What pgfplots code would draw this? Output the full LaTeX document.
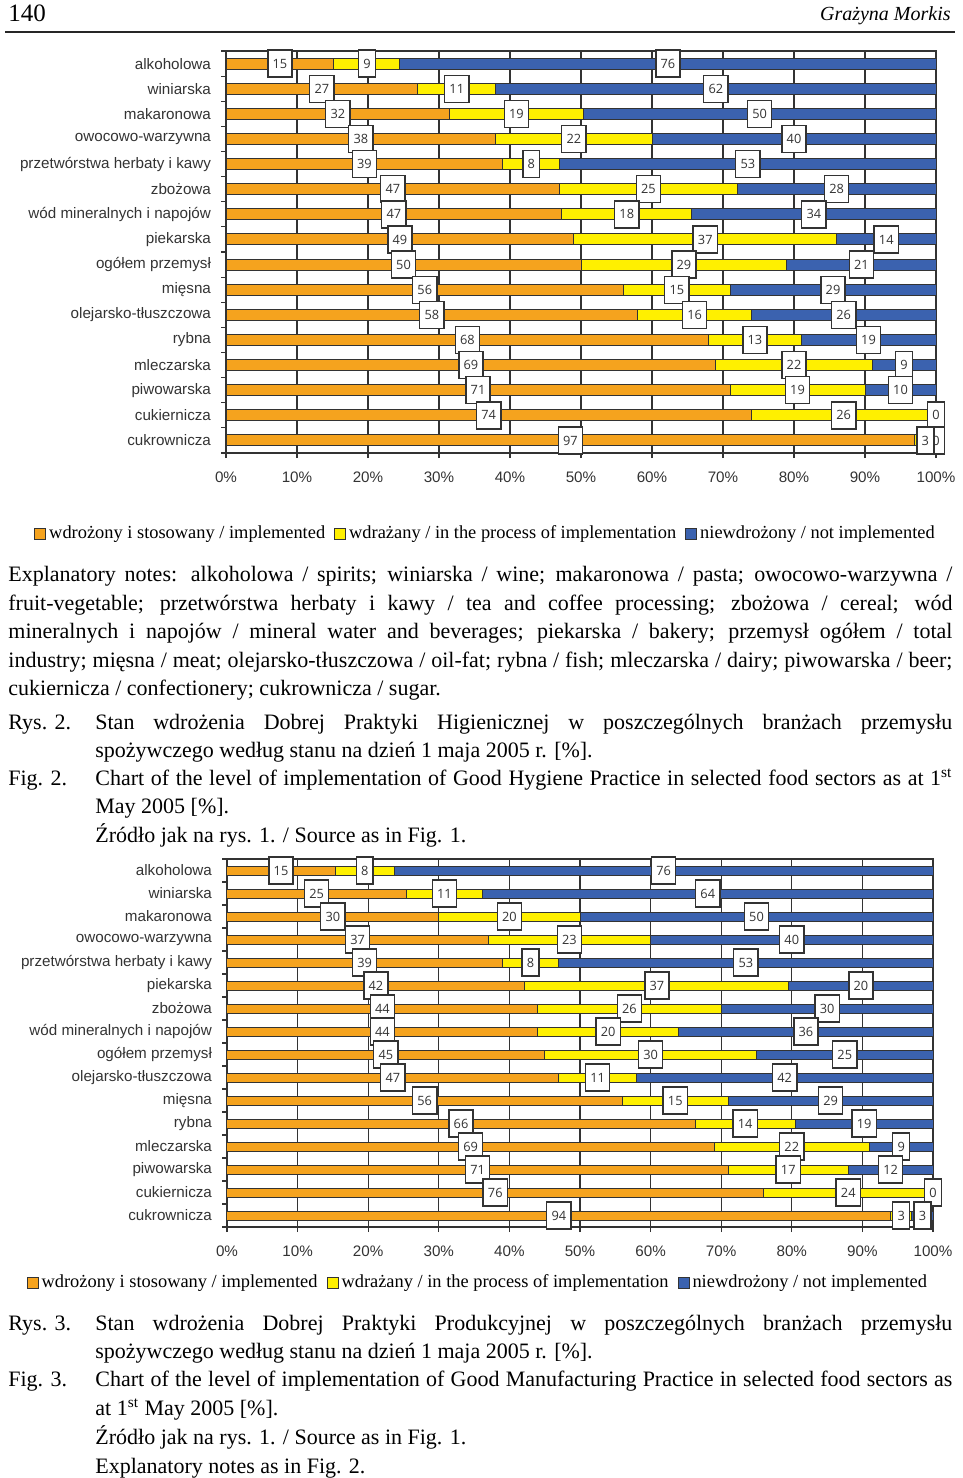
\documentclass[border=0pt]{standalone}
\usepackage{pgfplots}
\pgfplotsset{compat=1.18}
\usepackage{pgfplotstable}
\usepackage{fontspec}
\setmainfont{Liberation Serif}
\newfontfamily\arial{Liberation Sans}
\newfontfamily\lbl{Open Sans}
\definecolor{cOr}{HTML}{F5A31E}
\definecolor{cYe}{HTML}{FFF000}
\definecolor{cBl}{HTML}{3B62AF}
\definecolor{cAx}{HTML}{333333}

\pgfplotstableread{
y a b c la lb lc
0 15.2 9.3 75.5 15 9 76
1 27 11 62 27 11 62
2 31.5 18.8 49.7 32 19 50
3 38 22 40 38 22 40
4 39 8 53 39 8 53
5 47 25 28 47 25 28
6 47.3 18.3 34.4 47 18 34
7 49 37 14 49 37 14
8 50 29 21 50 29 21
9 56 15 29 56 15 29
10 58 16 26 58 16 26
11 68 13 19 68 13 19
12 69 22 9 69 22 9
13 71 19 10 71 19 10
14 74 26 0 74 26 0
15 97 3 0 97 3 0
}\dataA

\pgfplotstableread{
y a b c la lb lc
0 15.3 8.4 76.3 15 8 76
1 25.4 10.8 63.8 25 11 64
2 30 20 50 30 20 50
3 37 23 40 37 23 40
4 39 8 53 39 8 53
5 42.2 37.4 20.4 42 37 20
6 44 26 30 44 26 30
7 44 20 36 44 20 36
8 45 30 25 45 30 25
9 47 11 42 47 11 42
10 56 15 29 56 15 29
11 66.3 14.2 19.5 66 14 19
12 69 22 9 69 22 9
13 71 17 12 71 17 12
14 76 24 0 76 24 0
15 94 3 3 94 3 3
}\dataB

\tikzset{lblbox/.style={draw=cAx, fill=white, line width=0.7pt, font=\lbl\fontsize{6.4}{7}\selectfont,
    inner xsep=2.4pt, inner ysep=0pt, minimum height=13.5pt, text=cAx}}
\pgfplotsset{
  mybar/.style={
    scale only axis, xbar stacked, bar width=#1,
    xmin=0, xmax=100, ymin=-0.5, ymax=15.5, y dir=reverse,
    xtick={0,10,...,100},
    xticklabels={0\%,10\%,20\%,30\%,40\%,50\%,60\%,70\%,80\%,90\%,100\%},
    ytick={0,...,15},
    minor xtick={0,10,...,100}, minor ytick={-0.5,0.5,...,15.5},
    major tick length=0pt, minor tick length=2.5pt, tick align=outside, tick pos=left,
    xmajorgrids, grid style={cAx, line width=0.6pt},
    axis line style={cAx, line width=0.6pt},
    every tick/.style={cAx, line width=0.6pt},
    clip=false,
    ticklabel style={font=\arial\fontsize{7.6}{9}\selectfont, text=cAx},
    yticklabel style={xshift=-4pt},
    xticklabel style={yshift=-6pt},
    legend style={draw=none, fill=none, anchor=center, legend columns=3,
      font=\fontsize{9.2}{11}\selectfont, inner sep=0pt,
      /tikz/every even column/.append style={column sep=3pt},
      nodes={inner sep=1.5pt}},
    legend cell align=left,
    legend image code/.code={\draw[##1, draw=cAx, line width=0.5pt] (0pt,-2.75pt) rectangle (5.5pt,2.75pt);},
  },
  % with the xbar axis, centred nodes sit halfway between 0 and the given x,
  % so the x given is twice the segment's centre
  segA/.style={forget plot, stack plots=false, sharp plot, draw=none, mark=none, overlay, point meta=explicit,
    nodes near coords={\pgfmathprintnumber[assume math mode=true]{\pgfplotspointmeta}},
    nodes near coords align=center, nodes near coords style={lblbox}},
}

\begin{document}
\begin{tikzpicture}
\begin{scope}[x=0.5pt,y=-0.5pt]
\useasboundingbox (0,0) rectangle (960,1478);
\node[anchor=base west, inner sep=0, font=\fontsize{12.5}{14}\selectfont] at (8,21) {140};
\node[anchor=base east, inner sep=0, font=\itshape\fontsize{10}{12}\selectfont] at (951,20) {Grażyna Morkis};
\draw[line width=1pt, black!85] (5,32) -- (955,32);

\begin{scope}[every node/.style={anchor=base west, inner sep=0, font=\fontsize{11}{14}\selectfont}]
\node at (8,581) {\makebox[472pt][s]{Explanatory notes: alkoholowa / spirits; winiarska / wine; makaronowa / pasta; owocowo-warzywna /}};
\node at (8,610) {\makebox[472pt][s]{fruit-vegetable; przetwórstwa herbaty i kawy / tea and coffee processing; zbożowa / cereal; wód}};
\node at (8,638) {\makebox[472pt][s]{mineralnych i napojów / mineral water and beverages; piekarska / bakery; przemysł ogółem / total}};
\node at (8,667) {\makebox[472pt][s]{industry; mięsna / meat; olejarsko-tłuszczowa / oil-fat; rybna / fish; mleczarska / dairy; piwowarska / beer;}};
\node at (8,695) {cukiernicza / confectionery; cukrownicza / sugar.};

\node at (8,729) {Rys. 2.};
\node at (95,729) {\makebox[428.5pt][s]{Stan wdrożenia Dobrej Praktyki Higienicznej w poszczególnych branżach przemysłu}};
\node at (95,757) {spożywczego według stanu na dzień 1 maja 2005 r. [\%].};
\node at (8,785) {Fig. 2.};
\node at (95,785) {\makebox[428.5pt][s]{Chart of the level of implementation of Good Hygiene Practice in selected food sectors as at 1\textsuperscript{st}}};
\node at (95,813) {May 2005 [\%].};
\node at (95,842) {Źródło jak na rys. 1. / Source as in Fig. 1.};

\node at (8,1330) {Rys. 3.};
\node at (95,1330) {\makebox[428.5pt][s]{Stan wdrożenia Dobrej Praktyki Produkcyjnej w poszczególnych branżach przemysłu}};
\node at (95,1358) {spożywczego według stanu na dzień 1 maja 2005 r. [\%].};
\node at (8,1386) {Fig. 3.};
\node at (95,1386) {\makebox[428.5pt][s]{Chart of the level of implementation of Good Manufacturing Practice in selected food sectors as}};
\node at (95,1415) {at 1\textsuperscript{st} May 2005 [\%].};
\node at (95,1444) {Źródło jak na rys. 1. / Source as in Fig. 1.};
\node at (95,1473) {Explanatory notes as in Fig. 2.};
\end{scope}
\end{scope}

% Chart 1
\begin{axis}[mybar=5.5pt, at={(113pt,-226.5pt)}, anchor=south west, width=355pt, height=201pt,
  yticklabels={alkoholowa,winiarska,makaronowa,owocowo-warzywna,przetwórstwa herbaty i kawy,zbożowa,wód mineralnych i napojów,piekarska,ogółem przemysł,mięsna,olejarsko-tłuszczowa,rybna,mleczarska,piwowarska,cukiernicza,cukrownicza},
  legend style={at={(0.3662,-0.2015)}}]
\addplot[fill=cOr, draw=cAx, line width=0.5pt] table[x=a,y=y]{\dataA};
\addlegendentry{wdrożony i stosowany / implemented}
\addplot[fill=cYe, draw=cAx, line width=0.5pt] table[x=b,y=y]{\dataA};
\addlegendentry{wdrażany / in the process of implementation}
\addplot[fill=cBl, draw=cAx, line width=0.5pt] table[x=c,y=y]{\dataA};
\addlegendentry{niewdrożony / not implemented}
\addplot[segA] table[x expr=\thisrow{a}, y=y, meta=la]{\dataA};
\addplot[segA] table[x expr=2*\thisrow{a}+\thisrow{b}, y=y, meta=lb]{\dataA};
\addplot[segA] table[x expr=2*\thisrow{a}+2*\thisrow{b}+\thisrow{c}, y=y, meta=lc]{\dataA};
\end{axis}

% Chart 2
\begin{axis}[mybar=4.5pt, at={(113.5pt,-613.5pt)}, anchor=south west, width=353pt, height=184pt,
  yticklabels={alkoholowa,winiarska,makaronowa,owocowo-warzywna,przetwórstwa herbaty i kawy,piekarska,zbożowa,wód mineralnych i napojów,ogółem przemysł,olejarsko-tłuszczowa,mięsna,rybna,mleczarska,piwowarska,cukiernicza,cukrownicza},
  legend style={at={(0.356,-0.152)}}]
\addplot[fill=cOr, draw=cAx, line width=0.5pt] table[x=a,y=y]{\dataB};
\addlegendentry{wdrożony i stosowany / implemented}
\addplot[fill=cYe, draw=cAx, line width=0.5pt] table[x=b,y=y]{\dataB};
\addlegendentry{wdrażany / in the process of implementation}
\addplot[fill=cBl, draw=cAx, line width=0.5pt] table[x=c,y=y]{\dataB};
\addlegendentry{niewdrożony / not implemented}
\addplot[segA] table[x expr=\thisrow{a}, y=y, meta=la]{\dataB};
\addplot[segA] table[x expr=2*\thisrow{a}+\thisrow{b}, y=y, meta=lb]{\dataB};
\addplot[segA] table[x expr=2*\thisrow{a}+2*\thisrow{b}+\thisrow{c}, y=y, meta=lc]{\dataB};
\end{axis}
\end{tikzpicture}
\end{document}
